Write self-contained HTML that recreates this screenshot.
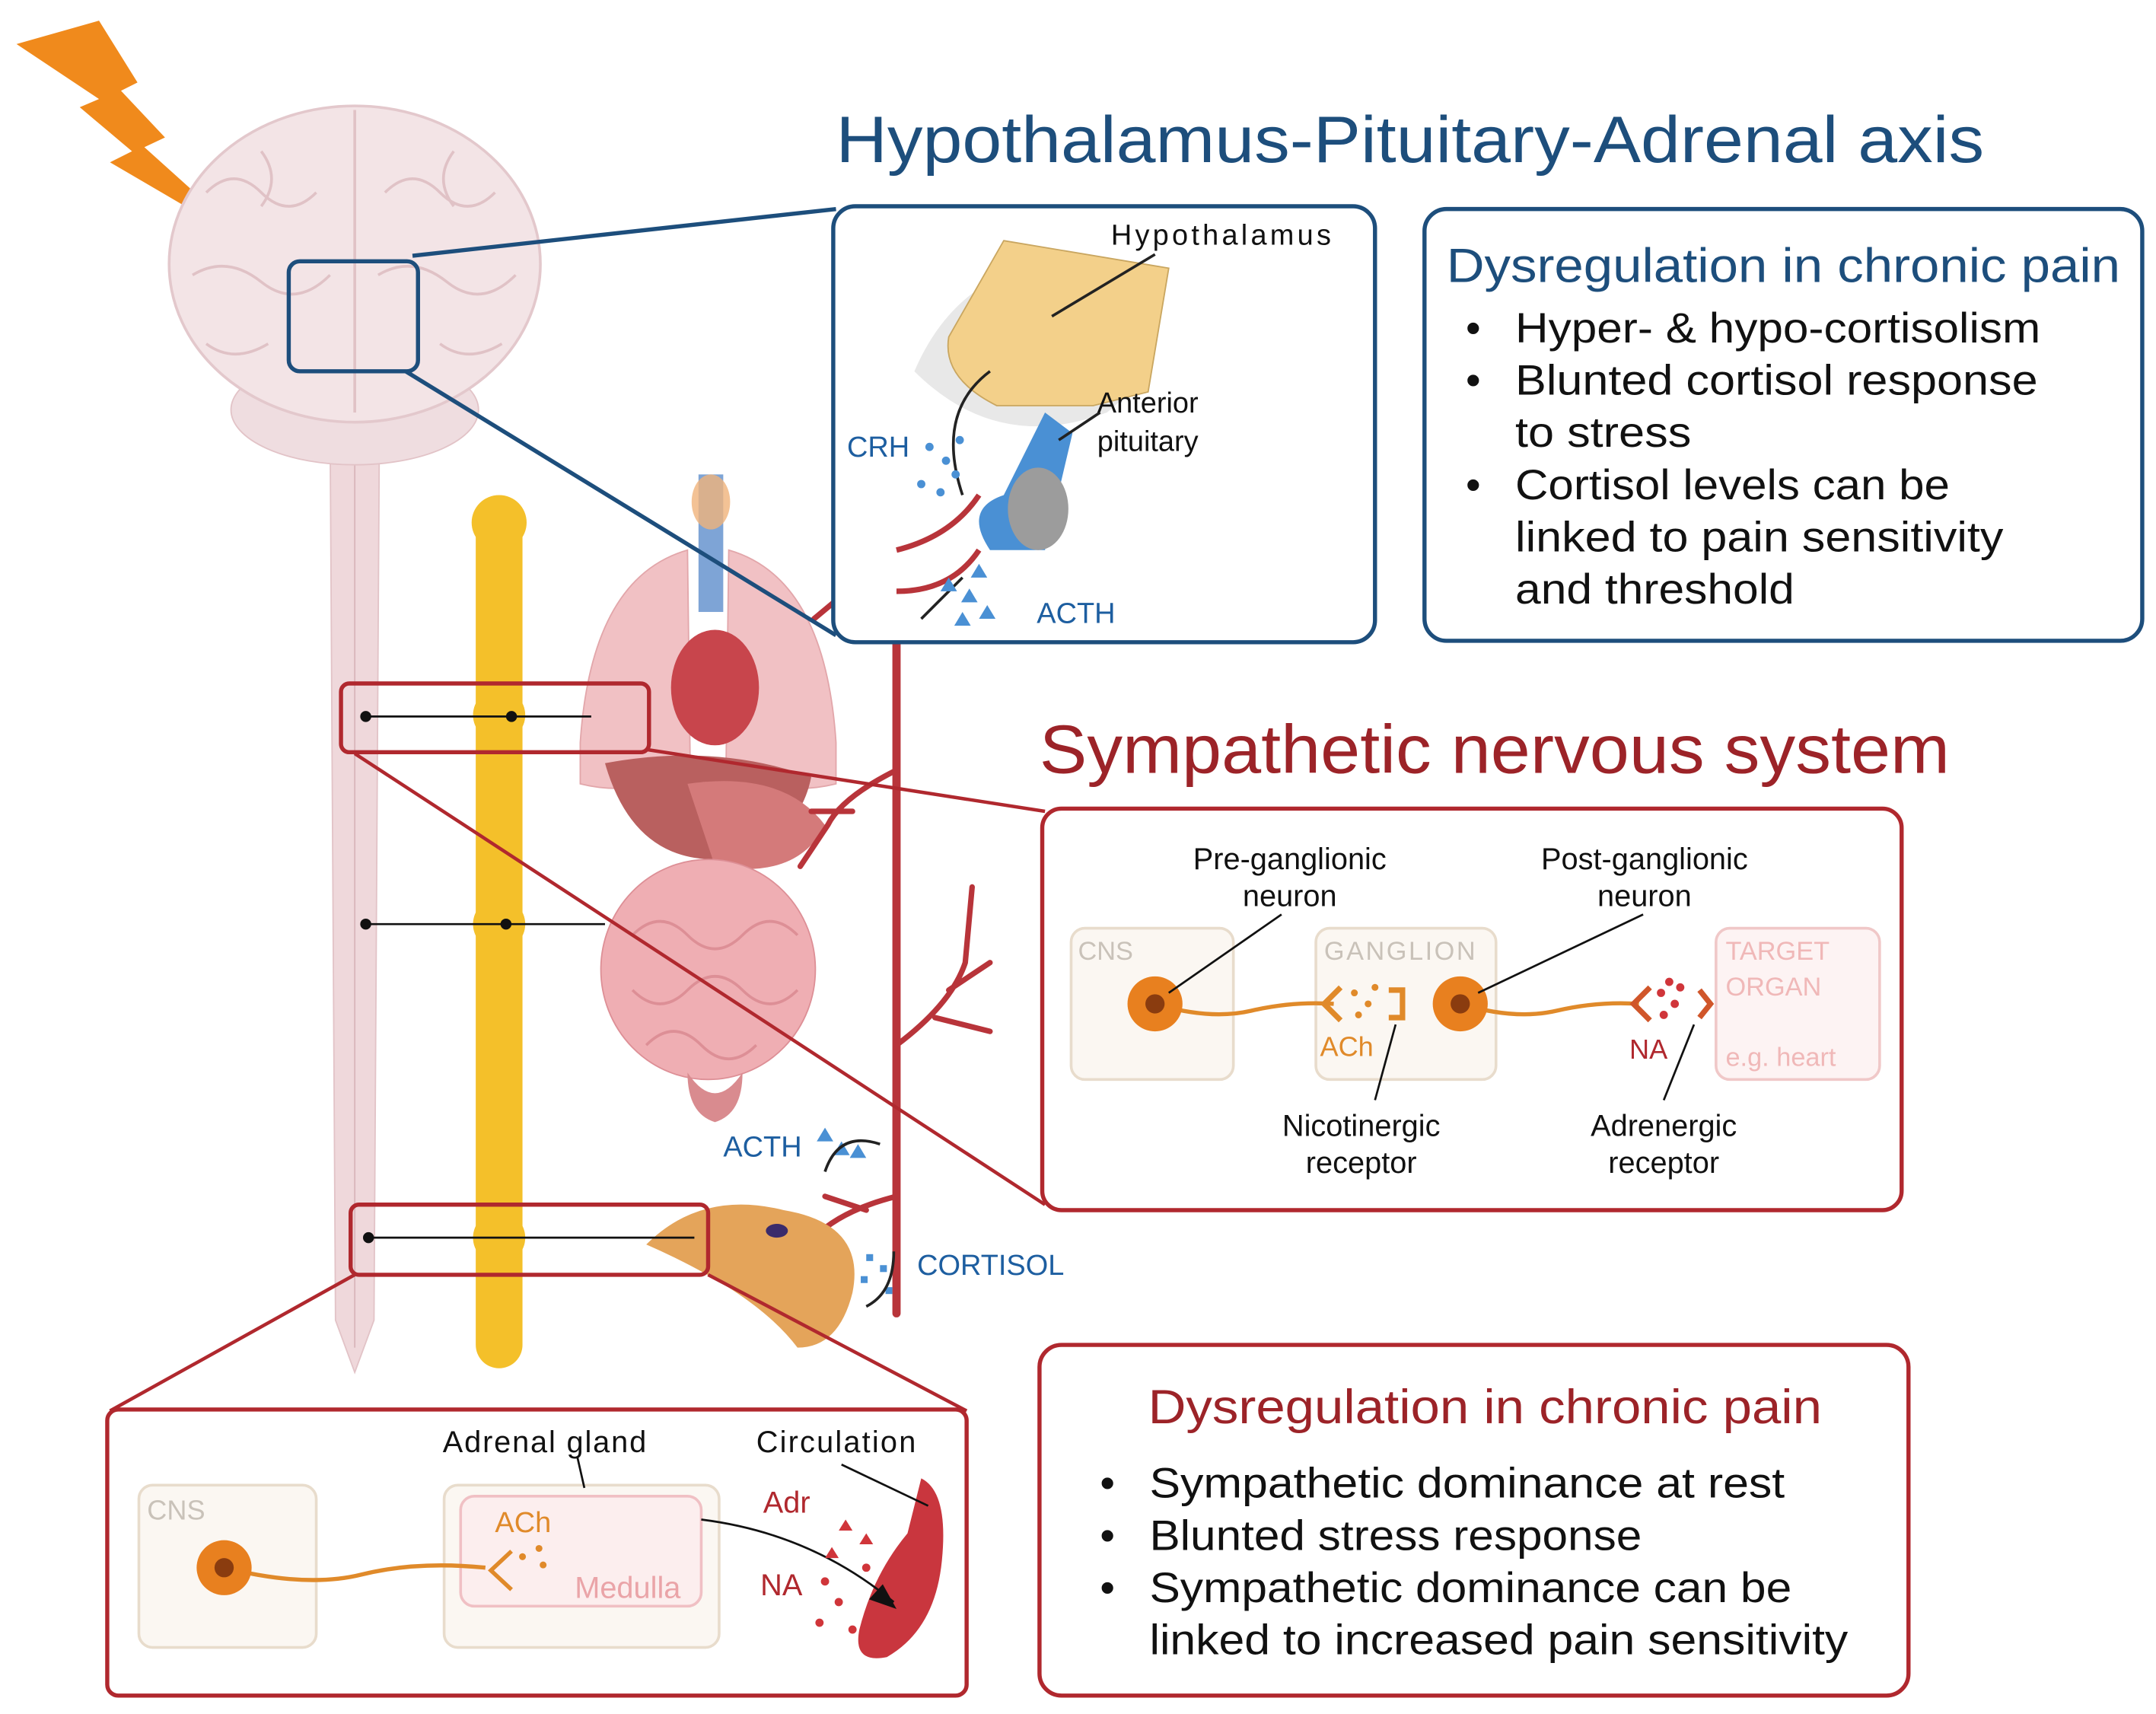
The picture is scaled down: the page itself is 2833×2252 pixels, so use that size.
<!DOCTYPE html>
<html><head><meta charset="utf-8"><style>
html,body{margin:0;padding:0;background:#fff;}
svg{display:block;}
text{font-family:"Liberation Sans",sans-serif;}
</style></head><body>
<svg width="2833" height="2252" viewBox="0 0 1568 1246.4" preserveAspectRatio="none" xmlns="http://www.w3.org/2000/svg">
<rect width="1568" height="1247" fill="#fff"/>
<!-- lightning -->
<polygon points="12,32 72,15 100,60 88,66 120,100 105,107 186,180 80,118 96,110 58,78 72,72" fill="#f08a1c"/>
<!-- spinal cord -->
<path d="M240,300 L276,300 L272,960 L258,998 L244,960 Z" fill="#efd8db" stroke="#e2c3c7"/>
<line x1="258" y1="320" x2="258" y2="980" stroke="#d9b5ba" stroke-width="1"/>
<!-- cerebellum -->
<ellipse cx="258" cy="298" rx="90" ry="40" fill="#efdde0" stroke="#e2c3c7"/>
<!-- brain -->
<ellipse cx="258" cy="192" rx="135" ry="115" fill="#f3e4e6" stroke="#e3c8cc" stroke-width="2"/>
<g stroke="#e0c2c6" stroke-width="2" fill="none">
<path d="M258,80 L258,300"/>
<path d="M150,140 q20,-20 40,0 t40,0"/><path d="M280,140 q20,-20 40,0 t40,0"/>
<path d="M140,200 q25,-15 50,5 t50,-5"/><path d="M275,200 q25,-15 50,5 t50,-5"/>
<path d="M150,250 q20,15 45,0"/><path d="M320,250 q20,15 45,0"/>
<path d="M190,110 q15,20 0,40"/><path d="M330,110 q-15,20 0,40"/>
</g>
<!-- sympathetic chain -->
<rect x="346" y="362" width="34" height="633" rx="17" fill="#f4c02a"/>
<g fill="#f4c02a">
<circle cx="363" cy="380" r="20"/><circle cx="363" cy="520" r="19"/><circle cx="363" cy="672" r="19"/><circle cx="363" cy="900" r="19"/>
</g>
<!-- organs -->
<path d="M500,400 q-70,20 -78,140 l0,30 q40,10 80,-10 Z" fill="#f1c1c4" stroke="#e2a6aa"/>
<path d="M530,400 q70,20 78,140 l0,30 q-40,10 -80,-10 Z" fill="#f1c1c4" stroke="#e2a6aa"/>
<rect x="508" y="345" width="18" height="100" fill="#7ea4d6"/>
<ellipse cx="517" cy="365" rx="14" ry="20" fill="#f0b37a" opacity=".8"/>
<ellipse cx="520" cy="500" rx="32" ry="42" fill="#c8454c"/>
<path d="M440,555 q80,-15 150,10 q-10,50 -70,60 q-60,0 -80,-70 Z" fill="#b9605f"/>
<path d="M500,570 q70,-10 100,30 q-20,40 -80,30 Z" fill="#d47a7a"/>
<ellipse cx="515" cy="705" rx="78" ry="80" fill="#efaeb3" stroke="#dd8f96"/>
<g stroke="#dd8f96" fill="none" stroke-width="2"><path d="M460,680 q20,-20 40,0 t40,0 t40,0"/><path d="M460,720 q20,20 40,0 t40,0 t40,0"/><path d="M470,760 q20,-20 40,0 t40,0"/></g>
<path d="M500,780 q20,30 40,0 q0,30 -20,36 q-20,-6 -20,-36Z" fill="#d98b8f"/>
<!-- artery -->
<g stroke="#b8343a" fill="none" stroke-linecap="round">
<line x1="652" y1="345" x2="652" y2="955" stroke-width="6"/>
<path d="M652,395 q-20,20 -30,30 l-30,25 M652,430 l-40,20" stroke-width="4"/>
<path d="M652,560 q-40,20 -50,40 l-20,30 M620,590 l-30,0" stroke-width="4"/>
<path d="M652,760 q40,-30 50,-60 l5,-55 M690,720 l30,-20 M680,740 l40,10" stroke-width="4"/>
<path d="M652,870 q-40,10 -60,30 l-20,40 M630,880 l-30,-10" stroke-width="4"/>
</g>
<!-- adrenal -->
<path d="M470,905 q40,-40 100,-25 q60,10 50,60 q-10,40 -40,40 q-30,-40 -110,-75Z" fill="#e4a45a"/>
<ellipse cx="565" cy="895" rx="8" ry="5" fill="#3a2b6b"/>
<!-- HPA -->
<text x="608" y="118" font-size="48" fill="#1d4e7c" textLength="835" lengthAdjust="spacingAndGlyphs">Hypothalamus-Pituitary-Adrenal axis</text>
<rect x="210" y="190" width="94" height="80" rx="8" fill="none" stroke="#1d4e7c" stroke-width="3"/>
<line x1="300" y1="186" x2="608" y2="152" stroke="#1d4e7c" stroke-width="3"/>
<line x1="295" y1="270" x2="608" y2="462" stroke="#1d4e7c" stroke-width="3"/>
<rect x="606" y="150" width="394" height="317" rx="16" fill="#fff" stroke="#1d4e7c" stroke-width="3"/>
<path d="M665,270 q30,-70 100,-80 l60,20 q30,50 -20,90 q-80,30 -140,-30Z" fill="#e8e8e8"/>
<path d="M730,175 l120,20 l-15,90 l-40,10 l-70,0 q-40,-20 -35,-50 Z" fill="#f3d08a" stroke="#c9a660"/>
<path d="M760,300 l20,15 l-20,85 l-40,0 q-20,-30 10,-40 Z" fill="#4a90d4"/>
<ellipse cx="755" cy="370" rx="22" ry="30" fill="#9c9c9c"/>
<line x1="765" y1="230" x2="840" y2="185" stroke="#222" stroke-width="2"/>
<path d="M720,270 q-40,30 -20,90" stroke="#222" stroke-width="2" fill="none"/>
<line x1="770" y1="320" x2="800" y2="300" stroke="#222" stroke-width="2"/>
<path d="M652,400 q40,-10 60,-40 M652,430 q40,0 60,-30" stroke="#b8343a" stroke-width="4" fill="none"/>
<path d="M700,420 q-20,20 -30,30" stroke="#222" stroke-width="2" fill="none"/>
<g fill="#4a90d4"><circle cx="676" cy="325" r="3"/><circle cx="688" cy="335" r="3"/><circle cx="670" cy="352" r="3"/><circle cx="684" cy="358" r="3"/><circle cx="698" cy="320" r="3"/><circle cx="695" cy="345" r="3"/>
<polygon points="690,420 696,430 684,430"/><polygon points="705,428 711,438 699,438"/><polygon points="718,440 724,450 712,450"/><polygon points="700,445 706,455 694,455"/><polygon points="712,410 718,420 706,420"/></g>
<text x="808" y="178" font-size="21" fill="#111" textLength="160">Hypothalamus</text>
<text x="798" y="300" font-size="21" fill="#111">Anterior</text>
<text x="798" y="328" font-size="21" fill="#111">pituitary</text>
<text x="616" y="332" font-size="21" fill="#1d5ea0">CRH</text>
<text x="754" y="453" font-size="21" fill="#1d5ea0">ACTH</text>
<!-- right blue box -->
<rect x="1036" y="152" width="522" height="314" rx="16" fill="none" stroke="#1d4e7c" stroke-width="3"/>
<text x="1052" y="205" font-size="35" fill="#1d4e7c" textLength="490" lengthAdjust="spacingAndGlyphs">Dysregulation in chronic pain</text>
<g font-size="31" fill="#111" lengthAdjust="spacingAndGlyphs">
<text x="1066" y="249">•</text><text x="1102" y="249" textLength="382" lengthAdjust="spacingAndGlyphs">Hyper- &amp; hypo-cortisolism</text>
<text x="1066" y="287">•</text><text x="1102" y="287" textLength="380" lengthAdjust="spacingAndGlyphs">Blunted cortisol response</text>
<text x="1102" y="325" textLength="128" lengthAdjust="spacingAndGlyphs">to stress</text>
<text x="1066" y="363">•</text><text x="1102" y="363" textLength="316" lengthAdjust="spacingAndGlyphs">Cortisol levels can be</text>
<text x="1102" y="401" textLength="355" lengthAdjust="spacingAndGlyphs">linked to pain sensitivity</text>
<text x="1102" y="439" textLength="203" lengthAdjust="spacingAndGlyphs">and threshold</text>
</g>
<!-- SNS -->
<text x="756" y="562" font-size="50" fill="#9c2328" textLength="662" lengthAdjust="spacingAndGlyphs">Sympathetic nervous system</text>
<g stroke="#111" stroke-width="1.5"><line x1="266" y1="521" x2="430" y2="521"/><line x1="266" y1="672" x2="440" y2="672"/><line x1="268" y1="900" x2="505" y2="900"/></g>
<g fill="#111"><circle cx="266" cy="521" r="4"/><circle cx="372" cy="521" r="4"/><circle cx="266" cy="672" r="4"/><circle cx="368" cy="672" r="4"/><circle cx="268" cy="900" r="4"/></g>
<rect x="248" y="497" width="224" height="50" rx="6" fill="none" stroke="#b0282e" stroke-width="3"/>
<rect x="255" y="876" width="260" height="51" rx="6" fill="none" stroke="#b0282e" stroke-width="3"/>
<line x1="470" y1="545" x2="760" y2="590" stroke="#b0282e" stroke-width="2.5"/>
<line x1="258" y1="548" x2="760" y2="876" stroke="#b0282e" stroke-width="2.5"/>
<line x1="258" y1="927" x2="80" y2="1026" stroke="#b0282e" stroke-width="2.5"/>
<line x1="515" y1="927" x2="703" y2="1026" stroke="#b0282e" stroke-width="2.5"/>
<text x="526" y="841" font-size="21" fill="#1d5ea0">ACTH</text>
<text x="667" y="927" font-size="21" fill="#1d5ea0">CORTISOL</text>
<g fill="#4a90d4"><polygon points="600,820 606,830 594,830"/><polygon points="612,830 618,840 606,840"/><polygon points="624,832 630,842 618,842"/><rect x="630" y="912" width="5" height="5"/><rect x="640" y="920" width="5" height="5"/><rect x="626" y="928" width="5" height="5"/><rect x="644" y="936" width="5" height="5"/></g>
<path d="M640,832 q-30,-10 -40,20" stroke="#222" stroke-width="2" fill="none"/>
<path d="M630,950 q20,-10 20,-40" stroke="#222" stroke-width="2" fill="none"/>
<rect x="758" y="588" width="625" height="292" rx="14" fill="#fff" stroke="#b0282e" stroke-width="3"/>
<rect x="779" y="675" width="118" height="110" rx="10" fill="#fbf7f2" stroke="#e8dccc" stroke-width="2"/>
<rect x="957" y="675" width="131" height="110" rx="10" fill="#fbf7f2" stroke="#e8dccc" stroke-width="2"/>
<rect x="1248" y="675" width="119" height="110" rx="10" fill="#fdf3f3" stroke="#f0c8c8" stroke-width="2"/>
<text x="784" y="698" font-size="19" fill="#c9c2b9">CNS</text>
<text x="963" y="698" font-size="19" fill="#c9c2b9" textLength="110">GANGLION</text>
<text x="1255" y="698" font-size="19" fill="#f0b8b8">TARGET</text>
<text x="1255" y="724" font-size="19" fill="#f0b8b8">ORGAN</text>
<text x="1255" y="775" font-size="19" fill="#f0b8b8">e.g. heart</text>
<path d="M840,730 q40,12 70,5 t60,-5 M1062,730 q40,12 70,5 t60,-5" stroke="#e08a2a" stroke-width="3" fill="none"/>
<circle cx="840" cy="730" r="20" fill="#e8801f"/><circle cx="840" cy="730" r="7" fill="#8a3c0f"/>
<circle cx="1062" cy="730" r="20" fill="#e8801f"/><circle cx="1062" cy="730" r="7" fill="#8a3c0f"/>
<path d="M975,718 l-12,12 l12,12" stroke="#e08a2a" stroke-width="4" fill="none"/>
<path d="M1010,720 l10,0 l0,20 l-10,0" stroke="#e08a2a" stroke-width="4" fill="none"/>
<path d="M1200,718 l-12,12 l12,12" stroke="#d0562a" stroke-width="4" fill="none"/>
<g fill="#e08a2a"><circle cx="985" cy="722" r="2.5"/><circle cx="995" cy="730" r="2.5"/><circle cx="988" cy="738" r="2.5"/><circle cx="1000" cy="718" r="2.5"/></g>
<g fill="#d0353a"><circle cx="1208" cy="722" r="3"/><circle cx="1218" cy="730" r="3"/><circle cx="1210" cy="738" r="3"/><circle cx="1222" cy="718" r="3"/><circle cx="1214" cy="714" r="3"/></g>
<path d="M1236,720 l8,10 l-8,10" stroke="#d0562a" stroke-width="4" fill="none"/>
<text x="960" y="768" font-size="20" fill="#e08a2a">ACh</text>
<text x="1185" y="770" font-size="20" fill="#b0282e">NA</text>
<g stroke="#111" stroke-width="1.5"><line x1="850" y1="722" x2="932" y2="665"/><line x1="1075" y1="722" x2="1195" y2="665"/><line x1="1000" y1="800" x2="1015" y2="745"/><line x1="1210" y1="800" x2="1232" y2="745"/></g>
<g font-size="22" fill="#111" text-anchor="middle">
<text x="938" y="632">Pre-ganglionic</text><text x="938" y="659">neuron</text>
<text x="1196" y="632">Post-ganglionic</text><text x="1196" y="659">neuron</text>
<text x="990" y="826">Nicotinergic</text><text x="990" y="853">receptor</text>
<text x="1210" y="826">Adrenergic</text><text x="1210" y="853">receptor</text>
</g>
<!-- bottom left box -->
<rect x="78" y="1025" width="625" height="208" rx="8" fill="#fff" stroke="#b0282e" stroke-width="3"/>
<rect x="101" y="1080" width="129" height="118" rx="10" fill="#fbf7f2" stroke="#e8dccc" stroke-width="2"/>
<text x="107" y="1105" font-size="20" fill="#c9c2b9">CNS</text>
<rect x="323" y="1080" width="200" height="118" rx="10" fill="#fbf7f2" stroke="#e8dccc" stroke-width="2"/>
<rect x="335" y="1088" width="175" height="80" rx="10" fill="#fceeee" stroke="#f0c0c4" stroke-width="2"/>
<text x="360" y="1114" font-size="21" fill="#e08a2a">ACh</text>
<text x="418" y="1162" font-size="22" fill="#eaa4a8">Medulla</text>
<path d="M163,1140 q60,15 100,5 t90,-5" stroke="#e08a2a" stroke-width="3" fill="none"/>
<path d="M372,1128 l-15,14 l15,14" stroke="#e08a2a" stroke-width="3" fill="none"/>
<g fill="#e08a2a"><circle cx="380" cy="1132" r="2.5"/><circle cx="392" cy="1126" r="2.5"/><circle cx="395" cy="1138" r="2.5"/></g>
<circle cx="163" cy="1140" r="20" fill="#e8801f"/><circle cx="163" cy="1140" r="7" fill="#8a3c0f"/>
<path d="M670,1075 q20,10 15,60 q-5,50 -40,70 q-25,5 -20,-20 q10,-40 35,-70 Z" fill="#c9363e"/>
<path d="M510,1105 q80,10 140,60" stroke="#111" stroke-width="1.5" fill="none"/>
<polygon points="652,1170 632,1163 642,1152" fill="#111"/>
<line x1="612" y1="1065" x2="675" y2="1095" stroke="#111" stroke-width="1.5"/>
<line x1="420" y1="1060" x2="425" y2="1082" stroke="#111" stroke-width="1.5"/>
<text x="322" y="1056" font-size="22" fill="#111" textLength="148">Adrenal gland</text>
<text x="550" y="1056" font-size="22" fill="#111" textLength="116">Circulation</text>
<text x="555" y="1100" font-size="22" fill="#b0282e">Adr</text>
<text x="553" y="1160" font-size="22" fill="#b0282e">NA</text>
<g fill="#d0353a"><polygon points="615,1105 620,1113 610,1113"/><polygon points="630,1115 635,1123 625,1123"/><polygon points="605,1125 610,1133 600,1133"/><circle cx="600" cy="1150" r="3"/><circle cx="610" cy="1165" r="3"/><circle cx="596" cy="1180" r="3"/><circle cx="620" cy="1185" r="3"/><circle cx="630" cy="1140" r="3"/></g>
<!-- bottom right box -->
<rect x="756" y="978" width="632" height="255" rx="16" fill="#fff" stroke="#b0282e" stroke-width="3"/>
<text x="835" y="1035" font-size="35" fill="#9c2328" textLength="490" lengthAdjust="spacingAndGlyphs">Dysregulation in chronic pain</text>
<g font-size="31" fill="#111">
<text x="800" y="1089">•</text><text x="836" y="1089" textLength="462" lengthAdjust="spacingAndGlyphs">Sympathetic dominance at rest</text>
<text x="800" y="1127">•</text><text x="836" y="1127" textLength="358" lengthAdjust="spacingAndGlyphs">Blunted stress response</text>
<text x="800" y="1165">•</text><text x="836" y="1165" textLength="467" lengthAdjust="spacingAndGlyphs">Sympathetic dominance can be</text>
<text x="836" y="1203" textLength="508" lengthAdjust="spacingAndGlyphs">linked to increased pain sensitivity</text>
</g>
</svg>
</body></html>
